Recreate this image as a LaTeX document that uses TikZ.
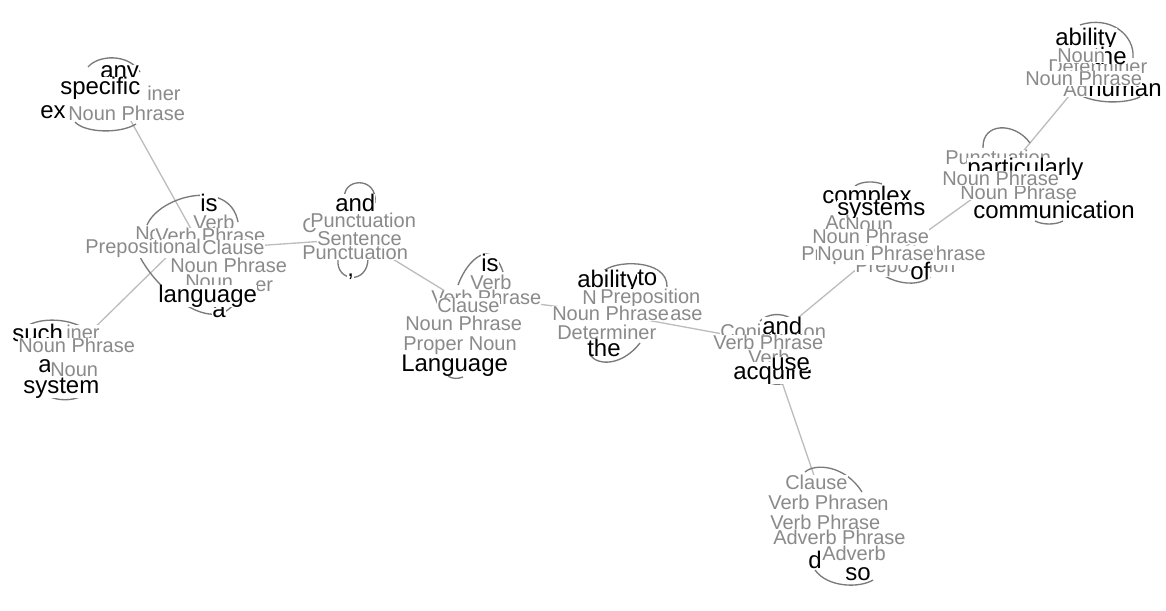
\documentclass[tikz,border=0pt]{standalone}
\usepackage{fontspec}
\setmainfont{Liberation Sans}
\usetikzlibrary{backgrounds}
\definecolor{tagc}{HTML}{8A8A8A}
\definecolor{linkc}{HTML}{BDBDBD}
\definecolor{loopc}{HTML}{7A7A7A}
\begin{document}
\begin{tikzpicture}[x=0.75pt,y=-0.75pt,
  word/.style={anchor=mid west,fill=white,inner sep=0pt,yshift=-3.5pt,text=black,font=\fontsize{18}{18}\selectfont},
  tag/.style={anchor=mid west,fill=white,inner sep=0pt,yshift=-3pt,text=tagc,font=\fontsize{15}{15}\selectfont},
  link/.style={draw=linkc,line width=1pt},
  loop/.style={draw=loopc,line width=1pt}]
\useasboundingbox (0,0) rectangle (1166,610);
%any specific
\node[word] (anyA) at (100,70) {any};
\node[tag] (detA) at (147,93) {iner};
\node[word] (specA) at (60,86) {specific};
\node[word] (exA) at (40,110) {ex};
\node[tag] (npA) at (68,113) {Noun Phrase};
%is language
\node[word] (isB) at (200,203) {is};
\node[tag] (verbB) at (193,222) {Verb};
\node[tag] (noB) at (135,233) {No};
\node[tag] (vpB) at (155,235) {Verb Phrase};
\node[tag] (prepB) at (85,246) {Prepositional};
\node[tag] (clauseB) at (202,247) {Clause};
\node[tag] (erB) at (255,284) {er};
\node[tag] (nounB) at (185,281) {Noun};
\node[tag] (npB) at (170,265) {Noun Phrase};
\node[word] (aB) at (212,309) {a};
\node[word] (langB) at (158,294) {language};
\coordinate (rootB) at (200,245);
\coordinate (ppB) at (179,245);
%and ,
\node[word] (andC) at (335,203) {and};
\node[tag] (conjC) at (302,225) {C};
\node[tag] (punctC) at (310,220) {Punctuation};
\node[tag] (punctC2) at (302,252) {Punctuation};
\node[tag] (sentC) at (317,238) {Sentence};
\node[word] (commaC) at (347,268) {,};
%such a system
\node[word] (suchD) at (12,333) {such};
\node[tag] (detD) at (66,332) {iner};
\node[tag] (npD) at (18,345) {Noun Phrase};
\node[word] (aD) at (38,364) {a};
\node[tag] (nounD) at (50,369) {Noun};
\node[word] (sysD) at (23,385) {system};
%is Language
\node[word] (isE) at (481,263) {is};
\node[tag] (verbE) at (470,282) {Verb};
\node[tag] (vpE) at (431,297) {Verb Phrase};
\node[tag] (clauseE) at (437,305) {Clause};
\node[tag] (npE) at (405,323) {Noun Phrase};
\node[tag] (pnE) at (403,343) {Proper Noun};
\node[word] (langE) at (401,363) {Language};
%the ability to
\node[word] (abilF) at (577,279) {ability};
\node[word] (toF) at (637,277) {to};
\node[tag] (nF) at (582,297) {N};
\node[tag] (prepF) at (600,296) {Preposition};
\node[tag] (aseF) at (670,313) {ase};
\node[tag] (npF) at (552,313) {Noun Phrase};
\node[tag] (detF) at (557,332) {Determiner};
\node[word] (theF) at (587,348) {the};
%acquire and use
\node[tag] (conjG) at (720,331) {Conjunction};
\node[word] (andG) at (762,326) {and};
\node[tag] (vpG) at (713,342) {Verb Phrase};
\node[tag] (verbG) at (748,357) {Verb};
\node[word] (acqG) at (733,371) {acquire};
\node[word] (useG) at (771,362) {use};
%complex systems of
\node[word] (compH) at (822,195) {complex};
\node[word] (sysH) at (837,207) {systems};
\node[tag] (adjH) at (825,222) {Ad};
\node[tag] (nounH) at (845,224) {Noun};
\node[tag] (npH) at (812,236) {Noun Phrase};
\node[tag] (prepH) at (855,265) {Preposition};
\node[tag] (ppH) at (801,253) {Prepositional Phrase};
\node[tag] (npH2) at (817,253) {Noun Phrase};
\node[word] (ofH) at (910,271) {of};
%particularly communication
\node[word] (commaJ) at (995,145) {,};
\node[tag] (punctJ) at (945,157) {Punctuation};
\node[word] (partJ) at (967,167) {particularly};
\node[tag] (npJ2) at (960,192) {Noun Phrase};
\node[tag] (npJ) at (942,178) {Noun Phrase};
\node[word] (commJ) at (973,210) {communication};
%the human ability
\node[word] (abilK) at (1055,37) {ability};
\node[tag] (detK) at (1048,66) {Determiner};
\node[word] (theK) at (1093,56) {the};
\node[tag] (nounK) at (1057,55) {Noun};
\node[tag] (adjK) at (1063,89) {Ad};
\node[word] (humK) at (1088,88) {human};
\node[tag] (npK) at (1025,78) {Noun Phrase};
%do so
\node[tag] (clauseI) at (785,482) {Clause};
\node[tag] (nI) at (877,503) {n};
\node[tag] (vpI) at (768,502) {Verb Phrase};
\node[tag] (vpI2) at (770,522) {Verb Phrase};
\node[tag] (advpI) at (773,537) {Adverb Phrase};
\node[word] (dI) at (808,560) {d};
\node[tag] (advI) at (822,553) {Adverb};
\node[word] (soI) at (845,572) {so};
\begin{pgfonlayer}{background}
% links
\draw[link] (npA.center) -- (rootB);
\draw[link] (ppB) -- (npD.center);
\draw[link] (clauseB.center) -- (sentC.center);
\draw[link] (sentC.center) -- (clauseE.center);
\draw[link] (vpE.center) -- (npF.center);
\draw[link] (npF.center) -- (vpG.center);
\draw[link] (vpG.center) -- (npH2.center);
\draw[link] (vpG.center) -- (clauseI.center);
\draw[link] (ppH.center) -- (npJ.center);
\draw[link] (npJ.center) -- (npK.center);
% loops
\draw[loop] (88,67) .. controls (98,55) and (128,53) .. (140,72);
\draw[loop] (75,122) .. controls (85,133) and (120,134) .. (136,124);
\draw[loop] (147,225) .. controls (160,195) and (230,178) .. (238,222);
\draw[loop] (140,257) .. controls (160,295) and (215,335) .. (235,302);
\draw[loop] (345,200) .. controls (340,178) and (378,175) .. (375,203);
\draw[loop] (338,260) .. controls (336,282) and (368,285) .. (368,258);
\draw[loop] (27,326) .. controls (40,318) and (65,318) .. (82,327);
\draw[loop] (48,396) .. controls (58,401) and (72,401) .. (82,396);
\draw[loop] (458,285) .. controls (468,258) and (492,238) .. (503,272);
\draw[loop] (448,376) .. controls (452,379) and (458,379) .. (463,377);
\draw[loop] (603,272) .. controls (612,260) and (668,258) .. (667,287);
\draw[loop] (590,355) .. controls (598,366) and (622,366) .. (640,343);
\draw[loop] (760,321) .. controls (768,313) and (782,313) .. (790,318);
\draw[loop] (765,380) .. controls (772,386) and (785,386) .. (792,378);
\draw[loop] (855,186) .. controls (862,181) and (874,181) .. (882,184);
\draw[loop] (873,266) .. controls (885,282) and (920,292) .. (935,272);
\draw[loop] (983,148) .. controls (982,122) and (1015,122) .. (1030,143);
\draw[loop] (1035,221) .. controls (1043,225) and (1055,225) .. (1063,221);
\draw[loop] (1080,25) .. controls (1110,15) and (1135,35) .. (1133,58);
\draw[loop] (1078,94) .. controls (1095,104) and (1125,104) .. (1140,97);
\draw[loop] (805,472) .. controls (815,463) and (845,465) .. (862,492);
\draw[loop] (815,570) .. controls (828,588) and (860,588) .. (873,580);
\end{pgfonlayer}
\end{tikzpicture}
\end{document}
